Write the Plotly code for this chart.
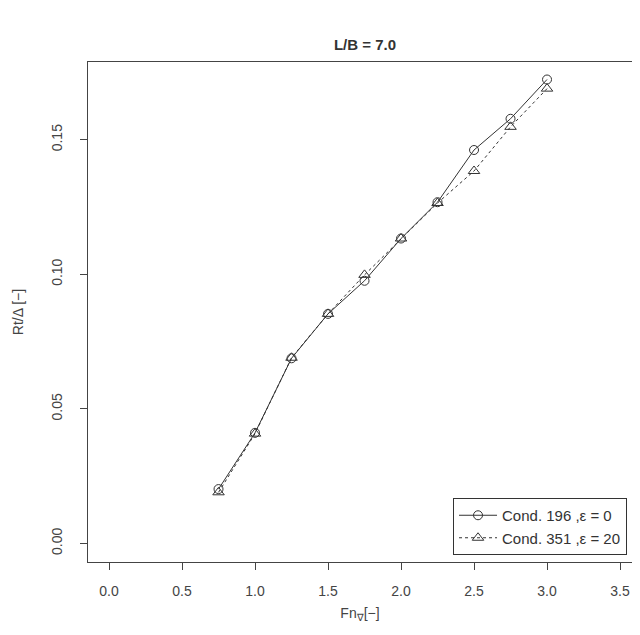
import plotly.graph_objects as go

fn = [0.75, 1.0, 1.25, 1.5, 1.75, 2.0, 2.25, 2.5, 2.75, 3.0]
rt_196 = [0.0202, 0.0411, 0.0688, 0.0853, 0.0976, 0.1133, 0.1268, 0.1462, 0.1578, 0.1724]
rt_351 = [0.0190, 0.0408, 0.0690, 0.0853, 0.0998, 0.1133, 0.1265, 0.1384, 0.1548, 0.1690]
x_ticks = [0.0, 0.5, 1.0, 1.5, 2.0, 2.5, 3.0, 3.5]
y_ticks = [0.00, 0.05, 0.10, 0.15]

col = "#333333"
txt = "#444444"
font = "Liberation Sans, Arial"
fig = go.Figure()
fig.add_trace(go.Scatter(x=fn, y=rt_196, mode="lines+markers", name="Cond. 196 ,ε = 0",
                         line=dict(color=col, width=1),
                         marker=dict(symbol="circle-open", size=9, color=col, line=dict(width=1))))
fig.add_trace(go.Scatter(x=fn, y=rt_351, mode="lines+markers", name="Cond. 351 ,ε = 20",
                         line=dict(color=col, width=1, dash="dot"),
                         marker=dict(symbol="triangle-up-open", size=10, color=col, line=dict(width=1))))

axis_common = dict(showline=True, linecolor="#444444", linewidth=1,
                   ticks="outside", ticklen=7, tickcolor="#444444", showgrid=False, zeroline=False,
                   tickfont=dict(family=font, size=14, color=txt))
fig.update_xaxes(range=[-0.144, 3.582], tickvals=x_ticks, ticktext=[f"{v:.1f}" for v in x_ticks],
                 mirror=True, ticklabelstandoff=9,
                 title=dict(text="Fn<sub>∇</sub>[−]", font=dict(family=font, size=14, color=txt), standoff=10),
                 **axis_common)
fig.update_yaxes(range=[-0.0069, 0.1789], tickvals=y_ticks, ticktext=[f"{v:.2f}" for v in y_ticks],
                 tickangle=-90, mirror=False, ticklabelstandoff=12,
                 title=dict(text="Rt/Δ [−]", font=dict(family=font, size=14, color=txt), standoff=22),
                 **axis_common)
fig.update_layout(
    width=624, height=619,
    margin=dict(l=80, r=0, t=54, b=65),
    paper_bgcolor="white", plot_bgcolor="white",
    title=dict(text="<b>L/B = 7.0</b>", x=(365 - 8) / 624, xanchor="center", y=1 - 37 / 619, yanchor="middle",
               font=dict(family=font, size=15, color="#333333")),
    legend=dict(x=0.671, y=0.014, xanchor="left", yanchor="bottom", bgcolor="white",
                bordercolor="#333333", borderwidth=1, tracegroupgap=0, itemwidth=38,
                font=dict(family=font, size=15, color="#333333")),
    showlegend=True,
)
fig.write_html("out.html")
